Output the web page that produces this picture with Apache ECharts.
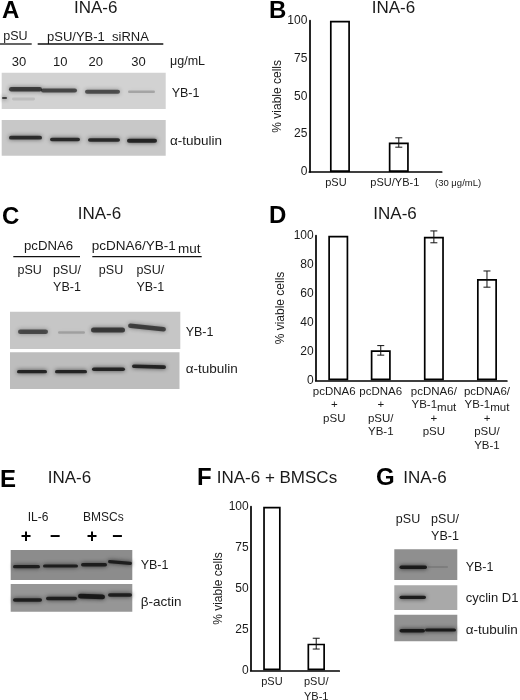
<!DOCTYPE html>
<html><head><meta charset="utf-8">
<style>html,body{margin:0;padding:0;background:#fff}#c{width:520px;height:700px}</style>
<script src="https://cdn.jsdelivr.net/npm/echarts@6/dist/echarts.min.js"></script>
</head><body><div id="c"></div>
<script>
// --- chart values ---
const yAxisTitle = '% viable cells';
const catsB = ['pSU', 'pSU/YB-1'];
const valsB = [100, 19.5];
const errsB = [0, 3.1];
const catsD = ['pcDNA6\n+\npSU', 'pcDNA6\n+\npSU/\nYB-1', 'pcDNA6/\nYB-1mut\n+\npSU', 'pcDNA6/\nYB-1mut\n+\npSU/\nYB-1'];
const valsD = [100, 20.7, 99.2, 70];
const errsD = [0, 3.3, 4.1, 5.6];
const catsF = ['pSU', 'pSU/\nYB-1'];
const valsF = [100, 16.3];
const errsF = [0, 3.3];

const FONT = '"Liberation Sans", Arial, sans-serif';
const INK = '#1a1a1a';

// Sparse category axes reproduce the uneven bar spacing of the figure.
function panel(idx, g, cats, vals, errs, slots, barW, interval) {
  const names = new Array(slots.n).fill('');
  const barData = new Array(slots.n).fill(null);
  const errData = [];
  slots.at.forEach((s, i) => {
    names[s] = cats[i];
    barData[s] = vals[i];
    if (errs[i] > 0) errData.push([s, vals[i], errs[i]]);
  });
  return {
    grid: { left: g.l, top: g.t, width: g.w, height: g.h, containLabel: false, outerBoundsMode: 'none' },
    xAxis: {
      type: 'category', gridIndex: idx, data: names,
      axisTick: { show: false },
      axisLine: { lineStyle: { color: '#000', width: 1.7 } },
      axisLabel: {
        interval: 0, margin: g.lm, color: INK, fontFamily: FONT, fontSize: g.fs, lineHeight: g.lh,
        hideOverlap: false,
        // labels that sit off their bar are nudged with a padded rich token
        formatter: (v, i) => {
          const k = slots.at.indexOf(i);
          const nudge = g.nudge && g.nudge[k];
          const t = v.replace(/YB-1mut/g, 'YB-1{m|mut}');
          if (!nudge) return t;
          return t.split('\n').map(line => `{${nudge > 0 ? 'r' : 'l'}|${line}}`).join('\n');
        },
        rich: {
          m: { fontFamily: FONT, fontSize: g.fs, color: INK, lineHeight: 8, padding: [6, 0, 0, 0] },
          l: { fontFamily: FONT, fontSize: g.fs, color: INK, lineHeight: g.lh, padding: [0, 8, 0, 0] },
          r: { fontFamily: FONT, fontSize: g.fs, color: INK, lineHeight: g.lh, padding: [0, 0, 0, 2] }
        }
      }
    },
    yAxis: {
      type: 'value', gridIndex: idx, min: 0, max: 100, interval,
      name: yAxisTitle, nameLocation: 'middle', nameGap: g.ng, nameRotate: 90,
      nameTextStyle: { fontFamily: FONT, fontSize: 12, color: INK },
      splitLine: { show: false },
      axisTick: { length: g.tl, lineStyle: { color: '#000', width: 1.5 } },
      axisLine: { show: true, lineStyle: { color: '#000', width: 1.7 } },
      axisLabel: { margin: 2, color: INK, fontFamily: FONT, fontSize: 12 }
    },
    series: [
      { type: 'bar', xAxisIndex: idx, yAxisIndex: idx, data: barData, barWidth: barW, clip: false,
        itemStyle: { color: '#fff', borderColor: '#000', borderWidth: 1.7 }, z: 3 },
      { type: 'custom', xAxisIndex: idx, yAxisIndex: idx, data: errData, encode: { x: 0, y: 1 }, clip: false, z: 4,
        renderItem(params, api) {
          const x = api.value(0), v = api.value(1), e = api.value(2);
          const top = api.coord([x, v + e]), bot = api.coord([x, v - e]);
          const st = { stroke: '#111', lineWidth: 1, fill: null };
          const seg = (x1, y1, x2, y2) => ({ type: 'line', shape: { x1, y1, x2, y2 }, style: st });
          return { type: 'group', children: [
            seg(top[0], top[1], bot[0], bot[1]),
            seg(top[0] - 3.5, top[1], top[0] + 3.5, top[1]),
            seg(bot[0] - 3.5, bot[1], bot[0] + 3.5, bot[1])
          ] };
        } }
    ]
  };
}

const pB = panel(0, { l: 309.3, t: 20.7, w: 132.4, h: 151.3, lm: 4, ng: 24.5, tl: 3, fs: 11, lh: 13, nudge: [-1, -1] }, catsB, valsB, errsB, { n: 54, at: [12, 36] }, 20, 25);
const pD = panel(1, { l: 315.7, t: 235.7, w: 191.2, h: 144.6, lm: 4.6, ng: 29.5, tl: 4.5, fs: 11.5, lh: 13.5, nudge: [-1] }, catsD, valsD, errsD, { n: 72, at: [8, 24, 44, 64] }, 20, 20);
const pF = panel(2, { l: 250.7, t: 506.7, w: 88.6, h: 163.6, lm: 4, ng: 25.5, tl: 4, fs: 11, lh: 15 }, catsF, valsF, errsF, { n: 48, at: [11, 35] }, 17.5, 25);

// --- text, rules and blot drawings ---
const g = [];
function txt(x, y, s, size, o = {}) {
  g.push({ type: 'text', x, y, z: 20, style: { text: s, fill: o.fill || INK, font: `${o.bold ? 'bold ' : ''}${size}px ${FONT}`,
    textAlign: o.align || 'left', textVerticalAlign: 'middle' } });
}
function rule(x1, x2, y) {
  g.push({ type: 'line', z: 20, shape: { x1, y1: y, x2, y2: y }, style: { stroke: '#111', lineWidth: 1.3 } });
}
function gel(x1, x2, y1, y2, color) {
  g.push({ type: 'rect', z: 5, shape: { x: x1, y: y1, width: x2 - x1, height: y2 - y1 }, style: { fill: color } });
}
// band: from x1 to x2, centre y, half thickness, darkness 0..1, tilt px
function band(x1, x2, y, th, dark, tilt = 0) {
  const c = `rgba(20,20,20,${dark})`;
  const mx = (x1 + x2) / 2;
  g.push({ type: 'rect', z: 6, x: mx, y, rotation: Math.atan2(tilt, x2 - x1),
    shape: { x: -(x2 - x1) / 2, y: -th, width: x2 - x1, height: th * 2, r: th },
    style: { fill: c, shadowBlur: 4, shadowColor: c } });
}
const letters = [['A', 2, 11], ['B', 269, 11], ['C', 2, 217], ['D', 269, 216], ['E', 0, 480], ['F', 197, 478], ['G', 376, 478]];
letters.forEach(l => txt(l[1], l[2], l[0], 24, { bold: true, fill: '#000' }));
[[74, 8], [371.7, 8], [77.7, 214.5], [373.3, 214.5], [47.7, 478.5], [216.7, 478.5], [403.3, 478.5]].forEach((p, i) =>
  txt(p[0], p[1], i === 5 ? 'INA-6 + BMSCs' : 'INA-6', 17));

// A
txt(3.3, 37, 'pSU', 12.5); txt(47, 37, 'pSU/YB-1  siRNA', 13);
rule(0, 31.7, 44); rule(37.7, 163.3, 44);
[[19, '30'], [60.3, '10'], [95.8, '20'], [138.5, '30']].forEach(p => txt(p[0], 62, p[1], 13, { align: 'center' }));
txt(170, 62, 'μg/mL', 12.5);
gel(1.7, 165.7, 72.7, 109, '#d2d2d2'); gel(1.7, 165.7, 120, 155.7, '#c8c8c8');
band(9, 42, 89.3, 2.2, .7); band(41, 77, 90.5, 2, .65); band(85, 120, 91.7, 2, .62); band(128, 155, 91.7, 1.2, .22);
band(12, 35, 99, 1.4, .1); band(2, 7, 98, .8, .95);
band(9, 42, 137.7, 1.9, .8); band(50, 80, 139.5, 1.8, .82); band(88, 120, 140, 1.8, .82); band(127, 157, 140.7, 2, .85);
txt(171.7, 94, 'YB-1', 12.5); txt(170, 141.7, 'α-tubulin', 13.5);
// B note
txt(435, 183, '(30 μg/mL)', 9.5);
// C
txt(24, 246, 'pcDNA6', 13.2); txt(91.7, 246, 'pcDNA6/YB-1', 13.5); txt(178, 249, 'mut', 13.5);
rule(13.3, 80, 256.7); rule(92.3, 201.7, 256.7);
[[29.7, 'pSU'], [111, 'pSU']].forEach(p => txt(p[0], 270.7, p[1], 12.5, { align: 'center' }));
[67, 150.3].forEach(x => { txt(x, 270.7, 'pSU/', 12.5, { align: 'center' }); txt(x, 287.3, 'YB-1', 12.5, { align: 'center' }); });
gel(10, 180.3, 311.7, 349, '#c6c6c6'); gel(10, 179.5, 352.3, 389, '#bdbdbd');
band(18, 48, 331.7, 2.3, .62); band(58, 85, 332.5, 1.3, .2); band(91, 125, 330, 2.5, .7); band(128, 166, 327.5, 2.2, .68, -4);
band(17, 47, 371.7, 1.6, .85); band(55, 87, 371.7, 1.6, .85); band(92, 125, 369.3, 1.8, .85); band(132, 166, 366.7, 1.8, .85, -1);
txt(185.7, 332.3, 'YB-1', 12.5); txt(185.7, 369.3, 'α-tubulin', 13.5);
// E
txt(38, 517.7, 'IL-6', 12, { align: 'center' }); txt(103.3, 517.7, 'BMSCs', 12, { align: 'center' });
[[26, '+'], [55, '−'], [92, '+'], [117.3, '−']].forEach(p => txt(p[0], 537.5, p[1], 18, { align: 'center', bold: true, fill: '#000' }));
gel(10.7, 132.3, 550, 580, '#8c8c8c'); gel(10.7, 132.3, 584, 611.7, '#969696');
band(13, 40, 566.7, 1.6, .88); band(43, 78, 566, 1.6, .88); band(81, 107, 564.8, 1.7, .88); band(108, 132, 562.5, 1.6, .88, -2);
band(13, 42, 600, 1.7, .88); band(46, 77, 598.5, 1.7, .88); band(78, 105, 596.5, 2.4, .92, -1); band(108, 132, 595, 1.8, .88);
txt(140.7, 565.3, 'YB-1', 12.5); txt(140.7, 602.3, 'β-actin', 13.5);
// G
txt(408, 520, 'pSU', 12.5, { align: 'center' }); txt(445, 520, 'pSU/', 12.5, { align: 'center' }); txt(445, 536.7, 'YB-1', 12.5, { align: 'center' });
gel(394.3, 457.3, 549.3, 580, '#8f8f8f'); gel(394.3, 457.3, 585.3, 610, '#a9a9a9'); gel(394.3, 457.3, 614.7, 641.3, '#929292');
band(399.5, 427, 567.3, 1.7, .92); band(428, 448, 567, .7, .18);
band(399.5, 426, 597.3, 1.6, .9);
band(399.5, 425, 630.7, 1.8, .92); band(425, 456, 630, 1.6, .92);
txt(465.7, 567.3, 'YB-1', 12.5); txt(465.7, 598.3, 'cyclin D1', 13); txt(465.7, 630, 'α-tubulin', 13.5);

const chart = echarts.init(document.getElementById('c'));
chart.setOption({
  animation: false, backgroundColor: '#fff',
  grid: [pB.grid, pD.grid, pF.grid],
  xAxis: [pB.xAxis, pD.xAxis, pF.xAxis],
  yAxis: [pB.yAxis, pD.yAxis, pF.yAxis],
  series: [...pB.series, ...pD.series, ...pF.series],
  graphic: { elements: g }
});
</script></body></html>
